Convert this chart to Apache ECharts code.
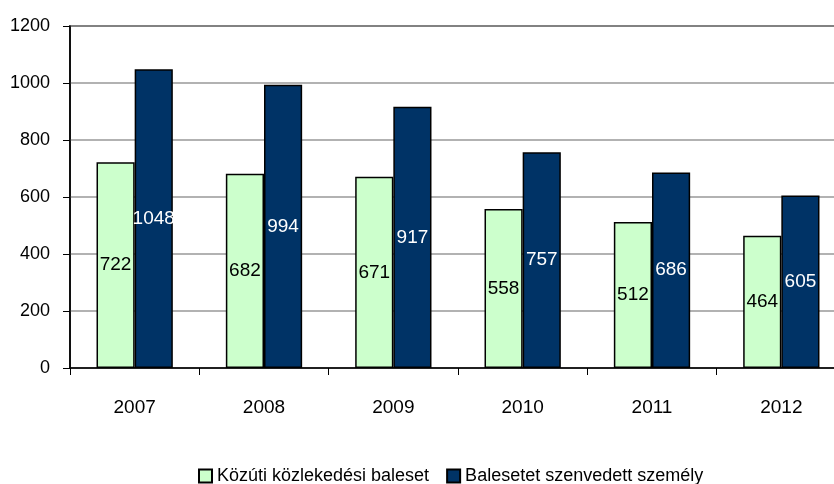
<!DOCTYPE html>
<html><head><meta charset="utf-8">
<script src="https://cdn.jsdelivr.net/npm/echarts@6/dist/echarts.min.js"></script>
<style>html,body{margin:0;padding:0;background:#fff;overflow:hidden;width:834px;height:484px}#c{width:860px;height:484px}</style>
</head><body><div id="c"></div>
<script>
const categories = ['2007','2008','2009','2010','2011','2012'];
const accidents = [722, 682, 671, 558, 512, 464];
const injured = [1048, 994, 917, 757, 686, 605];
const seriesNames = ['Közúti közlekedési baleset', 'Balesetet szenvedett személy'];
const yTicks = {min: 0, max: 1200, interval: 200};

const font = '"Liberation Sans", Arial, sans-serif';
const chart = echarts.init(document.getElementById('c'));
chart.setOption({
  animation: false,
  textStyle: {fontFamily: font},
  grid: {left: 70, width: 776, top: 26, bottom: 116, show: true, borderColor: '#000', borderWidth: 1.5, containLabel: false},
  legend: {
    left: 193, top: 462, itemWidth: 13, itemHeight: 13, itemGap: 17,
    textStyle: {fontFamily: font, fontSize: 18, color: '#000'},
    data: seriesNames.map(n => ({name: n, icon: 'rect'}))
  },
  xAxis: {
    type: 'category', data: categories,
    axisLine: {lineStyle: {color: '#000', width: 1.5}},
    axisTick: {show: true, length: 7, lineStyle: {color: '#000'}},
    axisLabel: {color: '#000', fontSize: 19, margin: 30, fontFamily: font}
  },
  yAxis: {
    type: 'value', min: yTicks.min, max: yTicks.max, interval: yTicks.interval,
    axisLine: {show: true, lineStyle: {color: '#000', width: 1.5}},
    axisTick: {show: true, length: 7, lineStyle: {color: '#000'}},
    splitLine: {lineStyle: {color: '#999', width: 1.5}},
    axisLabel: {color: '#000', fontSize: 18, margin: 20, fontFamily: font, formatter: v => String(v)}
  },
  series: [
    {name: seriesNames[0], type: 'bar', data: accidents, barGap: '0%', barCategoryGap: '41%',
     itemStyle: {color: '#CCFFCC', borderColor: '#000', borderWidth: 1.5},
     label: {show: true, position: 'inside', color: '#000', fontSize: 19, fontFamily: font}},
    {name: seriesNames[1], type: 'bar', data: injured, barGap: '0%', barCategoryGap: '41%',
     itemStyle: {color: '#003366', borderColor: '#000', borderWidth: 1.5},
     label: {show: true, position: 'inside', color: '#fff', fontSize: 19, fontFamily: font}}
  ]
});
</script></body></html>
